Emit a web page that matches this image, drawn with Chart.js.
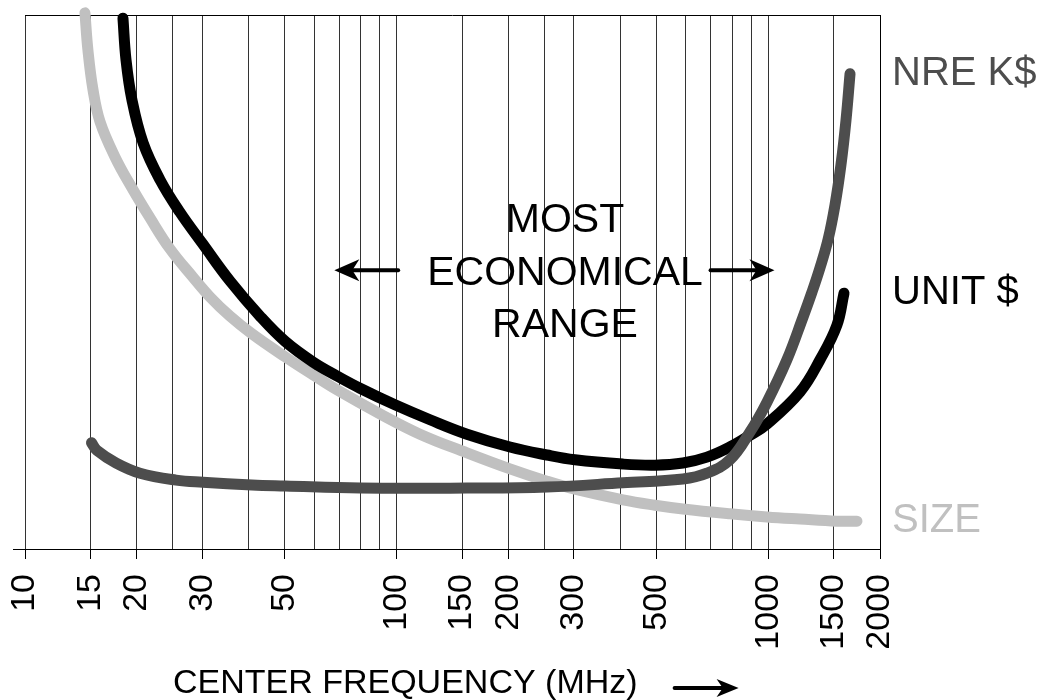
<!DOCTYPE html>
<html>
<head>
<meta charset="utf-8">
<script src="https://cdn.jsdelivr.net/npm/chart.js@4.4.1/dist/chart.umd.min.js"></script>
<style>
    html, body { margin: 0; padding: 0; background: #fff; }
    #wrap { width: 1039px; height: 700px; }
</style>
</head>
<body>
<div id="wrap"><canvas id="chart"></canvas></div>
<script>
// ==================================================
// 1. DATA
// ==================================================
const gridValues = [10, 15, 20, 25, 30, 40, 50, 60, 70, 80, 90, 100,
                    150, 200, 250, 300, 400, 500, 600, 700, 800, 900, 1000, 1500, 2000];
const labeledValues = [10, 15, 20, 30, 50, 100, 150, 200, 300, 500, 1000, 1500, 2000];

// NRE K$
const nreFreq = [15.1, 15.6, 17.6, 20.4, 25.5, 30.1, 40.8, 50.1, 79.7, 154.7, 253.9, 406.7, 589.8,
                 684.4, 789, 893.4, 992.6, 1123, 1241, 1312, 1378, 1449, 1513, 1570, 1620, 1661];
const nreCost = [19.9, 18.5, 16.1, 14.2, 12.9, 12.5, 12.0, 11.8, 11.4, 11.4, 11.6, 12.4, 13.1,
                 14.2, 16.7, 21.9, 27.5, 35.4, 43.4, 48.1, 52.6, 57.9, 64.4, 71.9, 80.3, 89.0];

// UNIT $
const unitFreq = [18.35, 18.7, 19.4, 20.8, 23.1, 26.1, 30.1, 35.6, 42.9, 50.1, 59.6, 69.1, 79.7,
                  99, 123, 154.7, 202, 253.9, 302, 406.7, 496, 589.8, 684.4, 789, 893.4, 992.6,
                  1218, 1378, 1531, 1600];
const unitCost = [99.4, 91.6, 84.1, 76.0, 69.1, 63.1, 57.1, 50.2, 43.6, 38.9, 35.0, 32.4, 30.1,
                  27.0, 24.2, 21.5, 19.1, 17.6, 16.7, 15.9, 15.7, 16.1, 17.2, 19.1, 21.3, 23.4,
                  29.4, 35.4, 41.9, 47.9];

// SIZE
const sizeFreq = [14.5, 14.77, 15.24, 15.92, 17.47, 19.41, 21.7, 24.56, 28.32, 31.47, 35.62, 40.8,
                  50.1, 59.6, 69.1, 90.2, 115.6, 154.7, 202, 253.9, 302, 406.7, 496, 589.8, 789,
                  992.6, 1218, 1531, 1734];
const sizeValue = [100.4, 93.4, 86.0, 80.0, 73.4, 67.6, 62.0, 56.2, 50.9, 47.2, 43.6, 40.3,
                   36.0, 32.6, 29.8, 25.3, 21.5, 18.0, 15.0, 12.7, 11.2, 9.2, 8.2, 7.5, 6.6,
                   6.0, 5.6, 5.2, 5.2];

const seriesNames = ['NRE K$', 'UNIT $', 'SIZE'];
const seriesColors = ['#4d4d4d', '#000000', '#c0c0c0'];
const axisTitle = 'CENTER FREQUENCY (MHz)';
const rangeText = ['MOST', 'ECONOMICAL', 'RANGE'];

const FONT = '"Liberation Sans", Arial, Helvetica, sans-serif';

const toPoints = (xs, ys) => xs.map((x, i) => ({ x: x, y: ys[i] }));

// ==================================================
// 2. ANNOTATION HELPERS
// ==================================================
function drawArrow(ctx, x0, y, x1, headLen, headHalf) {
    const dir = Math.sign(x1 - x0);
    ctx.save();
    ctx.strokeStyle = '#000';
    ctx.fillStyle = '#000';
    ctx.lineWidth = 4;
    ctx.lineCap = 'round';
    ctx.beginPath();
    ctx.moveTo(x0, y);
    ctx.lineTo(x1 - dir * headLen * 0.7, y);
    ctx.stroke();
    ctx.beginPath();
    ctx.moveTo(x1, y);
    ctx.lineTo(x1 - dir * headLen, y - headHalf);
    ctx.lineTo(x1 - dir * headLen * 0.72, y);
    ctx.lineTo(x1 - dir * headLen, y + headHalf);
    ctx.closePath();
    ctx.fill();
    ctx.restore();
}

const annotations = {
    id: 'annotations',
    afterDatasetsDraw(chart) {
        const ctx = chart.ctx;
        const xs = chart.scales.x;
        const ys = chart.scales.y;
        const area = chart.chartArea;

        // axis line runs a little past the left edge
        ctx.save();
        ctx.strokeStyle = '#000';
        ctx.lineWidth = 1;
        ctx.beginPath();
        ctx.moveTo(area.left - 12, Math.round(area.bottom) + 0.5);
        ctx.lineTo(area.left, Math.round(area.bottom) + 0.5);
        ctx.stroke();
        ctx.restore();

        // series labels at the end of each curve
        ctx.save();
        ctx.font = '40px ' + FONT;
        ctx.textAlign = 'left';
        ctx.textBaseline = 'middle';
        chart.data.datasets.forEach((ds, i) => {
            const pts = chart.getDatasetMeta(i).data;
            const last = pts[pts.length - 1];
            ctx.fillStyle = seriesColors[i];
            ctx.fillText(seriesNames[i], area.right + 12, last.y);
        });
        ctx.restore();

        // MOST ECONOMICAL RANGE
        const cx = xs.getPixelForValue(284);
        const cy = ys.getPixelForValue(51.6);
        ctx.save();
        ctx.font = '41px ' + FONT;
        ctx.fillStyle = '#000';
        ctx.textAlign = 'center';
        ctx.textBaseline = 'middle';
        rangeText.forEach((t, i) => ctx.fillText(t, cx, cy + (i - 1) * 52.5));
        ctx.restore();

        const ay = ys.getPixelForValue(52.2);
        drawArrow(ctx, xs.getPixelForValue(101), ay, xs.getPixelForValue(68), 25, 11);
        drawArrow(ctx, xs.getPixelForValue(700), ay, xs.getPixelForValue(1040), 25, 11);

        // arrow after the axis title
        ctx.save();
        ctx.font = '34px ' + FONT;
        const full = xs.options.title.text;
        const left = (area.left + area.right) / 2 - ctx.measureText(full).width / 2;
        const textEnd = left + ctx.measureText(axisTitle).width;
        ctx.restore();
        drawArrow(ctx, textEnd + 37, xs.bottom - 12, textEnd + 101, 22, 9);
    }
};

// ==================================================
// 3. CHART
// ==================================================
new Chart(document.getElementById('chart'), {
    type: 'line',
    data: {
        datasets: [
            { label: seriesNames[0], data: toPoints(nreFreq, nreCost), borderColor: seriesColors[0] },
            { label: seriesNames[1], data: toPoints(unitFreq, unitCost), borderColor: seriesColors[1] },
            { label: seriesNames[2], data: toPoints(sizeFreq, sizeValue), borderColor: seriesColors[2] }
        ]
    },
    options: {
        responsive: true,
        maintainAspectRatio: false,
        animation: false,
        layout: { padding: { left: 25, right: 159, top: 15, bottom: 0 } },
        elements: {
            line: {
                borderWidth: 11,
                borderCapStyle: 'round',
                borderJoinStyle: 'round',
                tension: 0.4,
                fill: false
            },
            point: { radius: 0, hoverRadius: 0 }
        },
        datasets: { line: { clip: false } },
        plugins: {
            legend: { display: false },
            tooltip: { enabled: false }
        },
        scales: {
            x: {
                type: 'logarithmic',
                min: 10,
                max: 2000,
                afterBuildTicks: (s) => { s.ticks = gridValues.map(v => ({ value: v })); },
                afterFit: (s) => { s.height = 151; },
                border: { display: true, color: '#000', width: 1 },
                grid: {
                    color: (c) => (c.tick && c.tick.value === 2000 ? '#000' : '#333'),
                    lineWidth: 1,
                    drawTicks: true,
                    tickLength: 10,
                    tickColor: (c) => (c.tick && labeledValues.includes(c.tick.value) ? '#000' : 'rgba(0,0,0,0)')
                },
                ticks: {
                    autoSkip: false,
                    minRotation: 90,
                    maxRotation: 90,
                    padding: 15,
                    color: '#000',
                    font: { family: FONT, size: 34 },
                    callback: (v) => (labeledValues.includes(v) ? String(v) : '')
                },
                title: {
                    display: true,
                    text: axisTitle + '          ',
                    color: '#000',
                    font: { family: FONT, size: 34, lineHeight: '32px' },
                    padding: { top: 0, bottom: 0 }
                }
            },
            y: {
                type: 'linear',
                min: 0,
                max: 100,
                afterBuildTicks: (s) => { s.ticks = [{ value: 100 }]; },
                border: { display: false },
                grid: { color: '#000', lineWidth: 1, drawTicks: false },
                ticks: { display: false }
            }
        }
    },
    plugins: [annotations]
});
</script>
</body>
</html>
